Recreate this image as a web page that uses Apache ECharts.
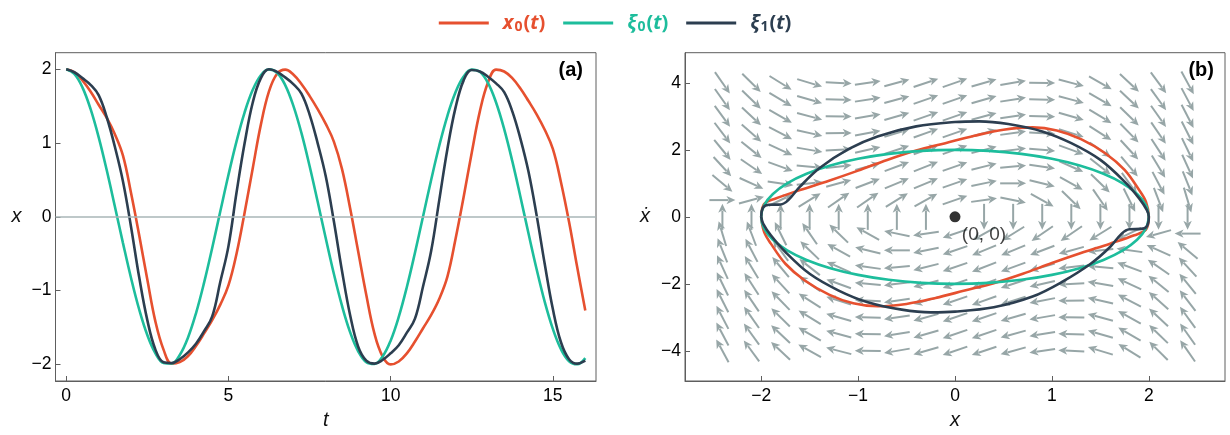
<!DOCTYPE html>
<html><head><meta charset="utf-8">
<script src="https://cdn.jsdelivr.net/npm/echarts@6/dist/echarts.min.js"></script>
<style>html,body{margin:0;padding:0;background:#fff}#c{width:1230px;height:435px}</style>
</head><body><div id="c"></div>
<script>
// ---------- panel (a): time series ----------
const tValues = [0,0.25,0.5,0.75,1,1.25,1.5,1.75,2,2.25,2.5,2.75,3,3.25,3.5,3.75,4,4.25,4.5,4.75,5,5.25,5.5,5.75,6,6.25,6.5,6.75,7,7.25,7.5,7.75,8,8.25,8.5,8.75,9,9.25,9.5,9.75,10,10.25,10.5,10.75,11,11.25,11.5,11.75,12,12.25,12.5,12.75,13,13.25,13.5,13.75,14,14.25,14.5,14.75,15,15.25,15.5,15.75,16];
const x0Values = [2.00,1.96,1.85,1.70,1.52,1.34,1.12,0.83,0.32,-0.25,-0.85,-1.42,-1.80,-1.99,-1.97,-1.89,-1.75,-1.58,-1.40,-1.19,-0.93,-0.50,0.06,0.66,1.25,1.70,1.94,1.995,1.93,1.80,1.64,1.46,1.26,1.02,0.65,0.12,-0.47,-1.06,-1.58,-1.89,-2.00,-1.96,-1.85,-1.69,-1.51,-1.33,-1.11,-0.81,-0.30,0.27,0.87,1.43,1.82,1.995,1.97,1.88,1.74,1.57,1.39,1.18,0.92,0.47,-0.07,-0.68,-1.27];
const xi0Values = [2.000,1.938,1.755,1.463,1.081,0.631,0.141,-0.356,-0.832,-1.256,-1.602,-1.849,-1.980,-1.988,-1.873,-1.641,-1.307,-0.892,-0.422,0.075,0.567,1.024,1.417,1.722,1.920,1.999,1.953,1.786,1.508,1.138,0.693,0.207,-0.291,-0.772,-1.204,-1.562,-1.822,-1.970,-1.994,-1.895,-1.678,-1.356,-0.951,-0.486,0.009,0.503,0.967,1.370,1.688,1.901,1.996,1.966,1.815,1.550,1.189,0.755,0.273,-0.226,-0.710,-1.153,-1.519,-1.794,-1.957,-1.998,-1.915];
const xi1Values = [2.00,1.96,1.88,1.79,1.65,1.35,0.95,0.48,-0.14,-0.82,-1.40,-1.80,-1.97,-1.98,-1.93,-1.84,-1.72,-1.55,-1.35,-0.88,-0.40,0.33,1.00,1.55,1.88,2.00,1.965,1.89,1.80,1.67,1.39,1.00,0.55,-0.06,-0.73,-1.33,-1.76,-1.95,-1.99,-1.94,-1.85,-1.74,-1.57,-1.38,-0.94,-0.46,0.23,0.92,1.48,1.85,1.99,1.97,1.90,1.81,1.69,1.43,1.06,0.61,0.02,-0.64,-1.25,-1.70,-1.93,-1.99,-1.95];
const tTicks = [0,5,10,15];
const xTicksA = [-2,-1,0,1,2];

// ---------- panel (b): phase plane ----------
const phaseXTicks = [-2,-1,0,1,2];
const phaseYTicks = [-4,-2,0,2,4];
const x0Phase = [[-2.0,0.0],[-1.97,0.38],[-1.85,0.55],[-1.6,0.8],[-1.3,1.08],[-1.0,1.38],[-0.7,1.7],[-0.4,1.98],[-0.1,2.2],[0.2,2.42],[0.5,2.6],[0.8,2.67],[1.05,2.58],[1.3,2.32],[1.55,1.9],[1.75,1.4],[1.9,0.8],[1.97,0.45],[2.0,0.0],
  [1.97,-0.38],[1.85,-0.55],[1.6,-0.8],[1.3,-1.08],[1.0,-1.38],[0.7,-1.7],[0.4,-1.98],[0.1,-2.2],[-0.2,-2.42],[-0.5,-2.6],[-0.8,-2.67],[-1.05,-2.58],[-1.3,-2.32],[-1.55,-1.9],[-1.75,-1.4],[-1.9,-0.8],[-1.97,-0.45],[-2.0,0.0]];
const xi0Phase = [[2.000,0.000],[1.970,0.347],[1.879,0.684],[1.732,1.000],[1.532,1.286],[1.286,1.532],[1.000,1.732],[0.684,1.879],[0.347,1.970],[0,2],[-0.347,1.970],[-0.684,1.879],[-1.000,1.732],[-1.286,1.532],[-1.532,1.286],[-1.732,1.000],[-1.879,0.684],[-1.970,0.347],[-2,0],
  [-1.970,-0.347],[-1.879,-0.684],[-1.732,-1.000],[-1.532,-1.286],[-1.286,-1.532],[-1.000,-1.732],[-0.684,-1.879],[-0.347,-1.970],[0,-2],[0.347,-1.970],[0.684,-1.879],[1.000,-1.732],[1.286,-1.532],[1.532,-1.286],[1.732,-1.000],[1.879,-0.684],[1.970,-0.347],[2,0]];
const xi1Phase = [[-2.0,0.0],[-1.98,0.28],[-1.92,0.36],[-1.8,0.37],[-1.72,0.5],[-1.6,0.9],[-1.4,1.45],[-1.1,2.02],[-0.8,2.4],[-0.4,2.7],[0.0,2.83],[0.25,2.85],[0.55,2.77],[0.9,2.55],[1.2,2.2],[1.5,1.7],[1.75,1.05],[1.9,0.55],[1.98,0.2],[2.0,0.0],
  [1.98,-0.28],[1.92,-0.36],[1.8,-0.37],[1.72,-0.5],[1.6,-0.9],[1.4,-1.4],[1.1,-1.95],[0.8,-2.38],[0.4,-2.7],[0.0,-2.83],[-0.25,-2.85],[-0.55,-2.77],[-0.9,-2.55],[-1.2,-2.2],[-1.5,-1.7],[-1.75,-1.05],[-1.9,-0.55],[-1.98,-0.2],[-2.0,0.0]];
const fixedPoint = [0, 0];

// stream field: sample columns/rows and vertical rate (horizontal rate = row's x-dot value)
const fieldX = [-2.4,-2.1,-1.8,-1.5,-1.2,-0.9,-0.6,-0.3,0,0.3,0.6,0.9,1.2,1.5,1.8,2.1,2.4];
const fieldY = [4,3.5,3,2.5,2,1.5,1,0.5,0,-0.5,-1,-1.5,-2,-2.5,-3,-3.5,-4];
const fieldV = [
  [-16.6,-11.5,-7.2,-3.5,-0.6,1.7,3.2,3.9,4.0,3.3,2.0,-0.1,-3.0,-6.5,-10.8,-15.7,-21.4],
  [-14.3,-9.8,-6.0,-2.9,-0.3,1.6,2.8,3.5,3.5,2.9,1.6,-0.2,-2.7,-5.9,-9.6,-14.0,-19.1],
  [-11.9,-8.1,-4.9,-2.3,-0.1,1.5,2.5,3.0,3.0,2.4,1.3,-0.3,-2.5,-5.3,-8.5,-12.3,-16.7],
  [-9.5,-6.4,-3.8,-1.6,0.1,1.4,2.2,2.6,2.5,2.0,1.0,-0.4,-2.3,-4.6,-7.4,-10.6,-14.3],
  [-7.1,-4.7,-2.7,-1.0,0.3,1.3,1.9,2.1,2.0,1.5,0.7,-0.5,-2.1,-4.0,-6.3,-8.9,-11.9],
  [-4.7,-3.0,-1.6,-0.4,0.5,1.2,1.6,1.7,1.5,1.1,0.4,-0.6,-1.9,-3.4,-5.2,-7.2,-9.5],
  [-2.4,-1.3,-0.4,0.3,0.8,1.1,1.2,1.2,1.0,0.6,0.0,-0.7,-1.6,-2.8,-4.0,-5.5,-7.2],
  [0.0,0.4,0.7,0.9,1.0,1.0,0.9,0.8,0.5,0.2,-0.3,-0.8,-1.4,-2.1,-2.9,-3.8,-4.8],
  [2.4,2.1,1.8,1.5,1.2,0.9,0.6,0.3,0,-0.3,-0.6,-0.9,-1.2,-1.5,-1.8,-2.1,-2.4],
  [4.8,3.8,2.9,2.1,1.4,0.8,0.3,-0.2,-0.5,-0.8,-0.9,-1.0,-1.0,-0.9,-0.7,-0.4,0.0],
  [7.2,5.5,4.0,2.8,1.6,0.7,0.0,-0.6,-1.0,-1.2,-1.2,-1.1,-0.8,-0.3,0.4,1.3,2.4],
  [9.5,7.2,5.2,3.4,1.9,0.6,-0.4,-1.1,-1.5,-1.7,-1.6,-1.2,-0.5,0.4,1.6,3.0,4.7],
  [11.9,8.9,6.3,4.0,2.1,0.5,-0.7,-1.5,-2.0,-2.1,-1.9,-1.3,-0.3,1.0,2.7,4.7,7.1],
  [14.3,10.6,7.4,4.6,2.3,0.4,-1.0,-2.0,-2.5,-2.6,-2.2,-1.4,-0.1,1.6,3.8,6.4,9.5],
  [16.7,12.3,8.5,5.3,2.5,0.3,-1.3,-2.4,-3.0,-3.0,-2.5,-1.5,0.1,2.3,4.9,8.1,11.9],
  [19.1,14.0,9.6,5.9,2.7,0.2,-1.6,-2.9,-3.5,-3.5,-2.8,-1.6,0.3,2.9,6.0,9.8,14.3],
  [21.4,15.7,10.8,6.5,3.0,0.1,-2.0,-3.3,-4.0,-3.9,-3.2,-1.7,0.6,3.5,7.2,11.5,16.6]
];

const C_RED = '#e6502f', C_GREEN = '#1dbd9c', C_DARK = '#2c3e50', C_ARROW = '#97a6a7', C_FRAME = '#5e5e5e';
const FONT = 'Liberation Sans, Arial, sans-serif';

const pair = (xs, ys) => xs.map((x, i) => [x, ys[i]]);
const arrowData = [];
fieldY.forEach((y, i) => fieldX.forEach((x, j) => {
  const v = fieldV[i][j];
  if (y === 0 && v === 0) return;
  arrowData.push([x, y, y, v]);
}));

function renderArrow(params, api) {
  const x = api.value(0), y = api.value(1), u = api.value(2), v = api.value(3);
  const p0 = api.coord([x, y]);
  const p1 = api.coord([x + u * 0.01, y + v * 0.01]);
  let dx = p1[0] - p0[0], dy = p1[1] - p0[1];
  const len = Math.hypot(dx, dy) || 1; dx /= len; dy /= len;
  const L = 26, hl = 9, hw = 4.2;
  const tail = [p0[0] - dx * L / 2, p0[1] - dy * L / 2];
  const tip = [p0[0] + dx * L / 2, p0[1] + dy * L / 2];
  const base = [tip[0] - dx * hl, tip[1] - dy * hl];
  const nx = -dy, ny = dx;
  return { type: 'group', children: [
    { type: 'line', shape: { x1: tail[0], y1: tail[1], x2: base[0] + dx * 2, y2: base[1] + dy * 2 },
      style: { stroke: C_ARROW, lineWidth: 2, fill: null } },
    { type: 'polygon', shape: { points: [tip, [base[0] + nx * hw, base[1] + ny * hw], [base[0] + dx * 2.5, base[1] + dy * 2.5], [base[0] - nx * hw, base[1] - ny * hw]] },
      style: { fill: C_ARROW } }
  ]};
}

const minus = v => String(v).replace('-', '\u2212');
function valueAxis(gridIndex, min, max, ticks, name, nameGap, isY) {
  return {
    type: 'value', gridIndex, min, max,
    name, nameLocation: 'middle', nameGap, nameRotate: 0,
    nameTextStyle: { fontStyle: 'italic', fontSize: 20, fontFamily: FONT, color: '#111' },
    axisLine: { show: true, onZero: false, lineStyle: { color: C_FRAME, width: 1 } },
    axisTick: { show: true, inside: true, length: 5, customValues: ticks, lineStyle: { color: C_FRAME } },
    axisLabel: { customValues: ticks, fontSize: 17.5, fontFamily: FONT, color: '#000', margin: isY ? 4 : 6, formatter: minus },
    splitLine: { show: false }
  };
}

const legendMap = { 'x0(t)': ['r', 'x', '0'], '\u03be0(t)': ['g', '\u03be', '0'], '\u03be1(t)': ['k', '\u03be', '1'] };
const rich = { gap: { width: 9 } };
[['r', C_RED], ['g', C_GREEN], ['k', C_DARK]].forEach(([k, c]) => {
  rich[k + 'i'] = { color: c, fontStyle: 'italic', fontWeight: 'bold', fontSize: 20, fontFamily: 'Open Sans, Lato, sans-serif' };
  rich[k + 's'] = { color: c, fontWeight: 'bold', fontSize: 14, fontFamily: 'Open Sans, Lato, sans-serif', padding: [9, 1, 0, 1] };
  rich[k + 'p'] = { color: c, fontWeight: 'bold', fontSize: 20, fontFamily: 'Open Sans, Lato, sans-serif' };
});

const lineSeries = (name, data, color, xi, yi, smooth) => ({
  name, type: 'line', xAxisIndex: xi, yAxisIndex: yi, data, showSymbol: false, symbol: 'none',
  smooth, lineStyle: { color, width: 2.6 }, itemStyle: { color }, z: 3, silent: true
});

const chart = echarts.init(document.getElementById('c'), null, { renderer: 'canvas' });
chart.setOption({
  animation: false,
  backgroundColor: '#fff',
  legend: {
    data: ['x0(t)', '\u03be0(t)', '\u03be1(t)'],
    left: 'center', top: 8, icon: 'rect', itemWidth: 50, itemHeight: 3, itemGap: 18,
    formatter: name => { const m = legendMap[name]; return `{gap|}{${m[0]}i|${m[1]}}{${m[0]}s|${m[2]}}{${m[0]}p|(}{${m[0]}i|t}{${m[0]}p|)}`; },
    textStyle: { rich }
  },
  grid: [
    { left: 55.5, top: 52.7, width: 540.5, height: 333, show: true, borderColor: C_FRAME, borderWidth: 1 },
    { left: 685, top: 52.7, width: 540, height: 333, show: true, borderColor: C_FRAME, borderWidth: 1 }
  ],
  xAxis: [
    valueAxis(0, -0.33, 16.33, tTicks, 't', 29, false),
    valueAxis(1, -2.786, 2.786, phaseXTicks, 'x', 29, false)
  ],
  yAxis: [
    valueAxis(0, -2.225, 2.225, xTicksA, 'x', 34, true),
    valueAxis(1, -4.9, 4.9, phaseYTicks, '\u1e8b', 35, true)
  ],
  graphic: [
    { type: 'text', right: 647, top: 60, style: { text: '(a)', font: 'bold 20px ' + FONT, fill: '#000' } },
    { type: 'text', right: 16, top: 60, style: { text: '(b)', font: 'bold 20px ' + FONT, fill: '#000' } }
  ],
  series: [
    { type: 'line', xAxisIndex: 0, yAxisIndex: 0, data: [], z: 1, silent: true,
      markLine: { silent: true, symbol: ['none', 'none'], label: { show: false },
        lineStyle: { color: '#a9b6b7', width: 1.5, type: 'solid' }, data: [{ yAxis: 0 }] } },
    lineSeries('x0(t)', pair(tValues, x0Values), C_RED, 0, 0, 0.4),
    lineSeries('\u03be0(t)', pair(tValues, xi0Values), C_GREEN, 0, 0, 0.4),
    lineSeries('\u03be1(t)', pair(tValues, xi1Values), C_DARK, 0, 0, 0.4),
    { type: 'custom', xAxisIndex: 1, yAxisIndex: 1, data: arrowData, renderItem: renderArrow,
      encode: { x: 0, y: 1 }, silent: true, z: 1 },
    lineSeries('x0(t)', x0Phase, C_RED, 1, 1, 0.35),
    lineSeries('\u03be0(t)', xi0Phase, C_GREEN, 1, 1, 0.35),
    lineSeries('\u03be1(t)', xi1Phase, C_DARK, 1, 1, 0.35),
    { type: 'scatter', xAxisIndex: 1, yAxisIndex: 1, data: [fixedPoint], symbolSize: 11, z: 5, silent: true,
      itemStyle: { color: '#000' },
      label: { show: true, formatter: '(0, 0)', position: 'bottom', offset: [29, -2], fontSize: 19, fontFamily: FONT, color: '#111' } }
  ]
});
</script></body></html>
